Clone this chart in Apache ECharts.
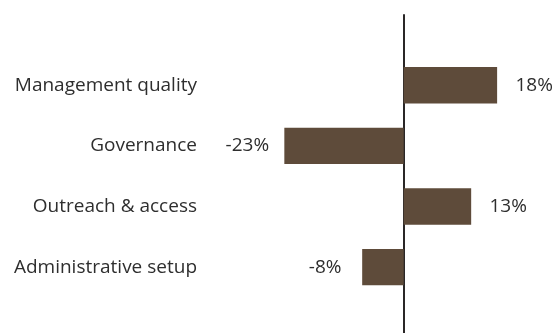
<!DOCTYPE html>
<html>
<head>
<meta charset="utf-8">
<script src="https://cdn.jsdelivr.net/npm/echarts@6/dist/echarts.min.js"></script>
<style>
html,body{margin:0;padding:0;background:#fff;}
#chart{width:559px;height:333px;}
</style>
</head>
<body>
<div id="chart"></div>
<script>
const categories = ["Management quality", "Governance", "Outreach & access", "Administrative setup"];
const values = [18, -23, 13, -8];
const xMin = -30, xMax = 20;

const FONT = "Open Sans";
const TEXT = "#2e2e2e";
const BAR = "#5e4b3a";

const chart = echarts.init(document.getElementById('chart'), null, {renderer: 'canvas'});
chart.setOption({
  animation: false,
  backgroundColor: '#ffffff',
  grid: [
    {left: 248, right: 51.5, top: 55, bottom: 35.6, containLabel: false},
    {left: 248, right: 51.5, top: 15, bottom: 0, containLabel: false}
  ],
  xAxis: [
    {gridIndex: 0, type: 'value', min: xMin, max: xMax, show: false},
    {gridIndex: 1, type: 'value', min: xMin, max: xMax, axisLabel: {show: false}, axisTick: {show: false}, axisLine: {show: false}, splitLine: {show: false}}
  ],
  yAxis: [
    {
      gridIndex: 0, type: 'category', data: categories, inverse: true,
      axisLine: {show: false, onZero: false}, axisTick: {show: false},
      axisLabel: {margin: 51, color: TEXT, fontFamily: FONT, fontSize: 19}
    },
    {
      gridIndex: 1, type: 'value', min: 0, max: 1,
      axisLine: {show: true, onZero: true, lineStyle: {color: '#2a2727', width: 2}},
      axisTick: {show: false}, axisLabel: {show: false}, splitLine: {show: false}
    }
  ],
  series: [{
    type: 'bar',
    xAxisIndex: 0, yAxisIndex: 0,
    data: values.map(v => ({
      value: v,
      label: {position: v >= 0 ? 'right' : 'left'}
    })),
    barCategoryGap: '40%',
    itemStyle: {color: BAR},
    label: {
      show: true,
      distance: 37,
      align: 'center',
      color: TEXT, fontFamily: FONT, fontSize: 19,
      formatter: p => p.value + '%'
    }
  }]
});
</script>
</body>
</html>
